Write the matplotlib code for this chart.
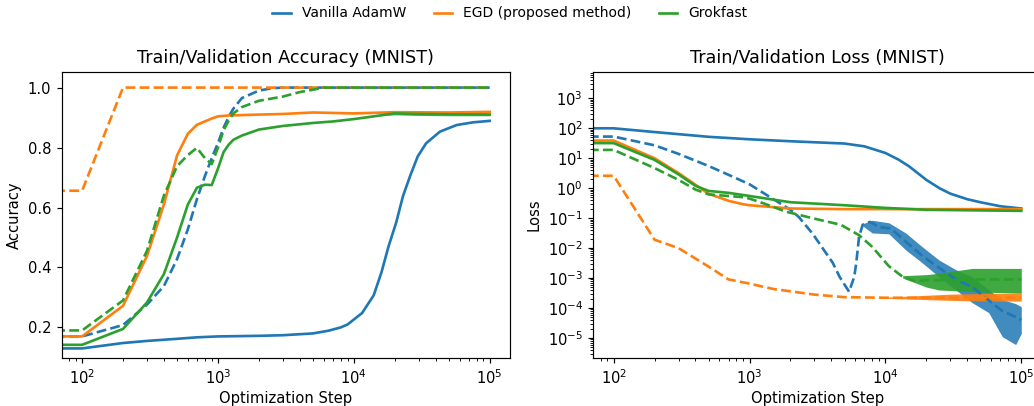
import matplotlib
matplotlib.use("Agg")
import matplotlib.pyplot as plt

BLUE, ORANGE, GREEN = "#1f77b4", "#ff7f0e", "#2ca02c"
methods = ["Vanilla AdamW", "EGD (proposed method)", "Grokfast"]

# ---------------- accuracy (MNIST) ----------------
adamw_train_acc_steps = [0, 100, 200, 300, 400, 500, 600, 700, 800, 900, 1000,
                         1100, 1200, 1300, 1500, 2000, 2500, 3000, 100000]
adamw_train_acc = [0.170, 0.170, 0.208, 0.276, 0.338, 0.428, 0.527, 0.628, 0.704,
                   0.765, 0.815, 0.866, 0.903, 0.930, 0.965, 0.990, 0.998, 1.0, 1.0]

adamw_val_acc_steps = [0, 100, 200, 300, 500, 700, 1000, 2000, 3000, 5000, 6500,
                       8000, 9000, 11500, 14000, 16000, 18000, 20500, 23000,
                       26000, 29500, 34000, 43000, 57000, 75000, 100000]
adamw_val_acc = [0.130, 0.130, 0.148, 0.155, 0.162, 0.167, 0.170, 0.172, 0.174,
                 0.180, 0.189, 0.200, 0.210, 0.248, 0.307, 0.385, 0.470, 0.550,
                 0.638, 0.706, 0.770, 0.814, 0.853, 0.875, 0.884, 0.889]

egd_train_acc_steps = [0, 100, 200, 100000]
egd_train_acc = [0.656, 0.656, 1.0, 1.0]

egd_val_acc_steps = [0, 100, 200, 300, 400, 500, 600, 700, 800, 900, 1000, 1200,
                     2000, 3000, 5000, 10000, 20000, 50000, 100000]
egd_val_acc = [0.170, 0.170, 0.272, 0.438, 0.610, 0.774, 0.846, 0.876, 0.887,
               0.897, 0.904, 0.907, 0.910, 0.912, 0.917, 0.914, 0.918, 0.917, 0.919]

grok_train_acc_steps = [0, 100, 200, 300, 400, 500, 600, 700, 800, 900, 1000,
                        1100, 1200, 1300, 1500, 2000, 3000, 4000, 5000, 6000, 100000]
grok_train_acc = [0.190, 0.190, 0.290, 0.455, 0.640, 0.738, 0.775, 0.799, 0.765,
                  0.745, 0.800, 0.858, 0.890, 0.914, 0.935, 0.956, 0.970, 0.985,
                  0.993, 1.0, 1.0]

grok_val_acc_steps = [0, 100, 200, 300, 400, 500, 600, 700, 800, 900, 1000, 1100,
                      1200, 1300, 1500, 2000, 3000, 5000, 7000, 10000, 13000,
                      20000, 30000, 50000, 100000]
grok_val_acc = [0.142, 0.142, 0.195, 0.283, 0.378, 0.500, 0.610, 0.666, 0.676,
                0.675, 0.730, 0.785, 0.810, 0.826, 0.840, 0.860, 0.872, 0.882,
                0.887, 0.895, 0.902, 0.914, 0.912, 0.911, 0.910]

# spread of the late-training validation accuracy
egd_val_acc_band_steps = [5000, 10000, 20000, 50000, 100000]
egd_val_acc_lo = [0.916, 0.912, 0.915, 0.914, 0.916]
egd_val_acc_hi = [0.919, 0.917, 0.921, 0.920, 0.922]
grok_val_acc_band_steps = [15000, 20000, 30000, 50000, 100000]
grok_val_acc_lo = [0.906, 0.909, 0.907, 0.906, 0.906]
grok_val_acc_hi = [0.908, 0.917, 0.916, 0.916, 0.915]

# ---------------- loss (MNIST) ----------------
adamw_val_loss_steps = [0, 100, 200, 500, 1000, 2000, 5000, 7000, 10000, 12500,
                        15000, 20000, 25000, 30000, 40000, 50000, 70000, 100000]
adamw_val_loss = [100, 100, 75, 52, 43, 37, 31, 25, 15, 9.0, 5.3, 1.9, 1.0, 0.66,
                  0.43, 0.34, 0.25, 0.21]

adamw_train_loss_steps = [0, 100, 200, 300, 500, 700, 1000, 1400, 2000, 2300, 2900,
                          3400, 4100, 4600, 5400, 5900, 6100, 6400, 6800, 7700,
                          9000, 11000, 14000, 18700, 24800, 33000, 43600, 57600,
                          72500, 91000, 100000]
adamw_train_loss = [53, 53, 27, 14, 5.5, 2.8, 1.35, 0.52, 0.19, 0.11, 0.031, 0.011,
                    0.0032, 0.0011, 0.00035, 0.0011, 0.0032, 0.024, 0.06, 0.075,
                    0.05, 0.045, 0.017, 0.0055, 0.0022, 0.0009, 0.0005, 0.00018,
                    0.00008, 0.00005, 0.00004]
adamw_train_loss_band_steps = [6800, 8000, 10600, 14100, 18700, 24800, 33000,
                               43600, 57600, 72500, 91000, 100000]
adamw_train_loss_lo = [0.055, 0.032, 0.030, 0.0087, 0.0032, 0.0011, 0.0004,
                       0.00015, 0.00007, 0.000011, 0.000006, 0.000014]
adamw_train_loss_hi = [0.065, 0.085, 0.070, 0.032, 0.011, 0.004, 0.0019, 0.0011,
                       0.0004, 0.00019, 0.00014, 0.00011]

egd_val_loss_steps = [0, 100, 200, 300, 400, 500, 700, 900, 1000, 2000, 5000,
                      10000, 100000]
egd_val_loss = [39, 39, 10, 3.2, 1.3, 0.65, 0.38, 0.29, 0.27, 0.21, 0.20, 0.20, 0.20]

egd_train_loss_steps = [0, 100, 200, 300, 500, 700, 1000, 1500, 2000, 3000,
                        5000, 10000, 100000]
egd_train_loss = [2.6, 2.6, 0.019, 0.010, 0.0024, 0.0009, 0.00065,
                  0.00043, 0.00036, 0.00028, 0.00023, 0.00022, 0.00022]
egd_train_loss_band_steps = [10000, 30000, 60000, 100000]
egd_train_loss_lo = [0.00021, 0.00018, 0.00017, 0.00017]
egd_train_loss_hi = [0.00023, 0.00029, 0.00031, 0.00031]

grok_val_loss_steps = [0, 100, 200, 300, 400, 500, 700, 1000, 2000, 5000, 10000,
                       20000, 100000]
grok_val_loss = [32, 32, 8.8, 2.9, 1.2, 0.81, 0.70, 0.55, 0.34, 0.27, 0.22, 0.19,
                 0.175]

grok_train_loss_steps = [0, 100, 200, 300, 400, 500, 700, 900, 1000, 1300, 1850,
                         2900, 4700, 6400, 8000, 10600, 13400, 16700, 20000,
                         30000, 50000, 100000]
grok_train_loss = [19, 19, 4.7, 1.9, 0.9, 0.62, 0.55, 0.50, 0.45, 0.30, 0.165,
                   0.10, 0.06, 0.027, 0.011, 0.0025, 0.0011, 0.00078, 0.00085,
                   0.00085, 0.0009, 0.0009]
grok_train_loss_band_steps = [13400, 20000, 24800, 43600, 100000]
grok_train_loss_lo = [0.0010, 0.0005, 0.0004, 0.00035, 0.00031]
grok_train_loss_hi = [0.0012, 0.0013, 0.00145, 0.0021, 0.0021]

# ---------------- figure ----------------
DPI = 106
fig = plt.figure(figsize=(1034 / DPI, 406 / DPI), dpi=DPI)
ax_acc = fig.add_axes([0.0597, 0.1182, 0.4336, 0.7037])
ax_loss = fig.add_axes([0.5738, 0.1182, 0.4336, 0.7037])

lw = 1.8

# accuracy panel
ax_acc.plot(adamw_train_acc_steps, adamw_train_acc, "--", color=BLUE, lw=lw)
h1, = ax_acc.plot(adamw_val_acc_steps, adamw_val_acc, "-", color=BLUE, lw=lw,
                  label=methods[0])
ax_acc.plot(egd_train_acc_steps, egd_train_acc, "--", color=ORANGE, lw=lw)
h2, = ax_acc.plot(egd_val_acc_steps, egd_val_acc, "-", color=ORANGE, lw=lw,
                  label=methods[1])
ax_acc.fill_between(egd_val_acc_band_steps, egd_val_acc_lo, egd_val_acc_hi,
                    color=ORANGE, alpha=0.6, lw=0)
ax_acc.plot(grok_train_acc_steps, grok_train_acc, "--", color=GREEN, lw=lw)
h3, = ax_acc.plot(grok_val_acc_steps, grok_val_acc, "-", color=GREEN, lw=lw,
                  label=methods[2])
ax_acc.fill_between(grok_val_acc_band_steps, grok_val_acc_lo, grok_val_acc_hi,
                    color=GREEN, alpha=0.8, lw=0)

ax_acc.set_xscale("log")
ax_acc.set_xlim(10 ** 1.85, 10 ** 5.15)
ax_acc.set_ylim(0.098, 1.051)
ax_acc.set_title("Train/Validation Accuracy (MNIST)")
ax_acc.set_xlabel("Optimization Step", labelpad=2.5)
ax_acc.set_ylabel("Accuracy")

# loss panel
ax_loss.plot(adamw_train_loss_steps, adamw_train_loss, "--", color=BLUE, lw=lw)
ax_loss.fill_between(adamw_train_loss_band_steps, adamw_train_loss_lo,
                     adamw_train_loss_hi, color=BLUE, alpha=0.85, lw=0)
ax_loss.plot(adamw_val_loss_steps, adamw_val_loss, "-", color=BLUE, lw=lw)
ax_loss.plot(egd_train_loss_steps, egd_train_loss, "--", color=ORANGE, lw=lw)
ax_loss.fill_between(egd_train_loss_band_steps, egd_train_loss_lo,
                     egd_train_loss_hi, color=ORANGE, alpha=0.9, lw=0)
ax_loss.plot(egd_val_loss_steps, egd_val_loss, "-", color=ORANGE, lw=lw)
ax_loss.plot(grok_train_loss_steps, grok_train_loss, "--", color=GREEN, lw=lw)
ax_loss.fill_between(grok_train_loss_band_steps, grok_train_loss_lo,
                     grok_train_loss_hi, color=GREEN, alpha=0.9, lw=0)
ax_loss.plot(grok_val_loss_steps, grok_val_loss, "-", color=GREEN, lw=lw)

ax_loss.set_xscale("log")
ax_loss.set_yscale("log")
ax_loss.set_xlim(10 ** 1.85, 10 ** 5.15)
ax_loss.set_ylim(10 ** -5.67, 10 ** 3.87)
ax_loss.set_title("Train/Validation Loss (MNIST)")
ax_loss.set_xlabel("Optimization Step", labelpad=2.5)
ax_loss.set_ylabel("Loss")

fig.legend(handles=[h1, h2, h3], loc="upper center", ncol=3, frameon=False,
           bbox_to_anchor=(0.4932, 1.015), fontsize=9.4, handlelength=1.35,
           columnspacing=1.95)

fig.savefig("out.png", dpi=DPI)
